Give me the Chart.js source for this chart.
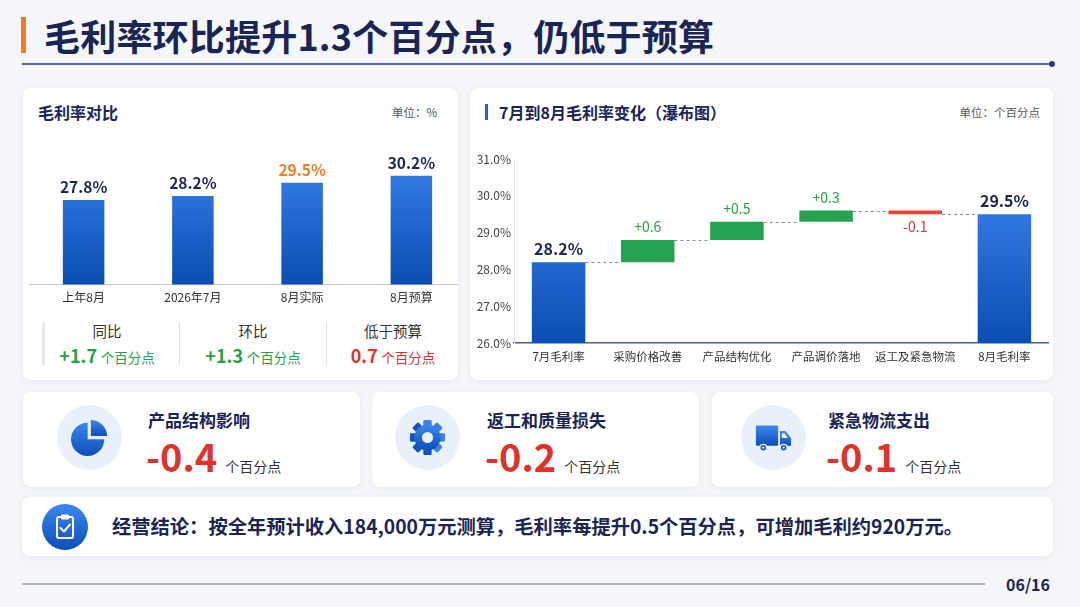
<!DOCTYPE html>
<html lang="zh-CN">
<head>
<meta charset="UTF-8">
<title>毛利率环比提升1.3个百分点</title>
<script src="https://cdn.jsdelivr.net/npm/chart.js"></script>
<style>
  * { box-sizing: border-box; }
  body {
    margin: 0;
    width: 1080px;
    height: 607px;
    overflow: hidden;
    position: relative;
    background: #f4f6fa;
    font-family: "Noto Sans CJK SC", "Noto Sans", sans-serif;
    color: #1b2553;
  }
  .abs { position: absolute; }
  .title-bar { left: 21px; top: 17px; width: 5px; height: 36px; background: #f47b20; }
  h1 {
    position: absolute; left: 44px; top: 11px; margin: 0;
    font-size: 36px; font-weight: 700; color: #1b2553; letter-spacing: 0.2px;
    line-height: 48px; white-space: nowrap;
  }
  .rule { left: 22px; top: 63px; width: 1030px; height: 2px; background: #5d6699; }
  .rule-dot { left: 1049px; top: 61px; width: 6px; height: 6px; border-radius: 50%; background: #2b3a80; }
  .card {
    position: absolute; background: #fff; border-radius: 8px;
    box-shadow: 0 1px 6px rgba(30, 50, 100, 0.07);
    overflow: hidden;
  }
  .card-title { position: absolute; font-size: 16px; font-weight: 700; color: #1b2553; white-space: nowrap; line-height: 20px; }
  .unit { position: absolute; font-size: 11.5px; color: #555; white-space: nowrap; line-height: 16px; }
  .stat { position: absolute; top: 233px; width: 140px; text-align: center; }
  .stat .lbl { font-size: 14.5px; color: #333; line-height: 20px; }
  .stat .val { margin-top: 3px; line-height: 22px; white-space: nowrap; }
  .stat .num { font-size: 18px; font-weight: 700; }
  .stat .u { font-size: 13.5px; }
  .green { color: #27a046; }
  .red { color: #e0322c; }
  .sep { position: absolute; top: 234px; width: 1px; height: 43px; background: #dcdfe5; }
  .icon-bg { position: absolute; width: 65px; height: 65px; border-radius: 50%; background: #e9f0fb; }
  .icon-bg svg { position: absolute; left: 14px; top: 14px; }
  .kpi-title { position: absolute; top: 17px; font-size: 17px; font-weight: 700; color: #1b2553; line-height: 22px; white-space: nowrap; }
  .kpi-val { position: absolute; top: 39px; white-space: nowrap; line-height: 50px; }
  .kpi-val .num { font-size: 38px; font-weight: 700; color: #e0322c; }
  .kpi-val .u { font-size: 14px; color: #333; margin-left: 8px; }
  .note { position: absolute; left: 90px; top: 17px; font-size: 19.3px; font-weight: 700; color: #1b2553; white-space: nowrap; line-height: 25px; }
  .foot-rule { left: 22px; top: 583px; width: 963px; height: 1.5px; background: #aeb3bf; }
  .page { left: 1006px; top: 573px; font-size: 16px; font-weight: 700; color: #1b2553; line-height: 22px; }
</style>
</head>
<body>

<div class="abs title-bar"></div>
<h1>毛利率环比提升1.3个百分点，仍低于预算</h1>
<div class="abs rule"></div>
<div class="abs rule-dot"></div>

<!-- left card: comparison bars -->
<div class="card" style="left:23px; top:88px; width:435px; height:292px;">
  <div class="card-title" style="left:15px; top:14px;">毛利率对比</div>
  <div class="unit" style="right:21px; top:16px;">单位：%</div>
  <div style="position:absolute; left:6px; top:41px; width:437px; height:182px;">
    <canvas id="cmpChart"></canvas>
  </div>
  <div class="sep" style="left:19px; width:3px; background:#e6e8ec;"></div>
  <div class="sep" style="left:156px;"></div>
  <div class="sep" style="left:303px;"></div>
  <div class="stat" style="left:14px;">
    <div class="lbl">同比</div>
    <div class="val green"><span class="num">+1.7</span> <span class="u">个百分点</span></div>
  </div>
  <div class="stat" style="left:160px;">
    <div class="lbl">环比</div>
    <div class="val green"><span class="num">+1.3</span> <span class="u">个百分点</span></div>
  </div>
  <div class="stat" style="left:300px;">
    <div class="lbl">低于预算</div>
    <div class="val red"><span class="num">0.7</span> <span class="u">个百分点</span></div>
  </div>
</div>

<!-- right card: waterfall -->
<div class="card" style="left:470px; top:88px; width:583px; height:292px;">
  <div style="position:absolute; left:15px; top:16px; width:3px; height:16px; background:#1f62d6;"></div>
  <div class="card-title" style="left:29px; top:14px;">7月到8月毛利率变化（瀑布图）</div>
  <div class="unit" style="right:13px; top:16px;">单位：个百分点</div>
  <div style="position:absolute; left:6px; top:57px; width:573px; height:226px;">
    <canvas id="wfChart"></canvas>
  </div>
</div>

<!-- kpi cards -->
<div class="card" style="left:23px; top:392px; width:337px; height:95px;">
  <div class="icon-bg" style="left:34px; top:13px;">
    <svg width="37" height="37" viewBox="0 0 40 40">
      <defs><linearGradient id="gp" x1="0" y1="0" x2="0" y2="1"><stop offset="0" stop-color="#3d86f0"/><stop offset="1" stop-color="#0d4fb6"/></linearGradient></defs>
      <path d="M18 22 L18 4 A18 18 0 1 0 36 22 Z" fill="url(#gp)"/>
      <path d="M21.5 18.5 L21.5 1 A17.5 17.5 0 0 1 39 18.5 Z" fill="url(#gp)"/>
    </svg>
  </div>
  <div class="kpi-title" style="left:125px;">产品结构影响</div>
  <div class="kpi-val" style="left:123px;"><span class="num">-0.4</span><span class="u">个百分点</span></div>
</div>

<div class="card" style="left:372px; top:392px; width:327px; height:95px;">
  <div class="icon-bg" style="left:23px; top:13px;">
    <svg width="37" height="37" viewBox="0 0 40 40">
      <defs><linearGradient id="gg" x1="0" y1="0" x2="0" y2="1"><stop offset="0" stop-color="#3d86f0"/><stop offset="1" stop-color="#0d4fb6"/></linearGradient></defs>
      <g fill="url(#gg)" transform="translate(20 20)">
        <rect x="-4.5" y="-19" width="9" height="38" rx="1.5"/>
        <rect x="-4.5" y="-19" width="9" height="38" rx="1.5" transform="rotate(45)"/>
        <rect x="-4.5" y="-19" width="9" height="38" rx="1.5" transform="rotate(90)"/>
        <rect x="-4.5" y="-19" width="9" height="38" rx="1.5" transform="rotate(135)"/>
        <circle r="14"/>
      </g>
      <circle cx="20" cy="20" r="6" fill="#e9f0fb"/>
    </svg>
  </div>
  <div class="kpi-title" style="left:115px;">返工和质量损失</div>
  <div class="kpi-val" style="left:113px;"><span class="num">-0.2</span><span class="u">个百分点</span></div>
</div>

<div class="card" style="left:712px; top:392px; width:341px; height:95px;">
  <div class="icon-bg" style="left:29px; top:13px;">
    <svg width="37" height="37" viewBox="0 0 40 40">
      <defs><linearGradient id="gt" x1="0" y1="0" x2="0" y2="1"><stop offset="0" stop-color="#3d86f0"/><stop offset="1" stop-color="#0d4fb6"/></linearGradient></defs>
      <rect x="1" y="7" width="24" height="22" rx="1.5" fill="url(#gt)"/>
      <path d="M27 13 L33 13 L39 21 L39 29 L27 29 Z" fill="url(#gt)"/>
      <path d="M29 15.5 L32 15.5 L35.5 20.5 L29 20.5 Z" fill="#e9f0fb"/>
      <circle cx="9" cy="31" r="4.3" fill="#e9f0fb"/><circle cx="9" cy="31" r="3" fill="#1553bd"/><circle cx="9" cy="31" r="1.2" fill="#e9f0fb"/>
      <circle cx="31" cy="31" r="4.3" fill="#e9f0fb"/><circle cx="31" cy="31" r="3" fill="#1553bd"/><circle cx="31" cy="31" r="1.2" fill="#e9f0fb"/>
    </svg>
  </div>
  <div class="kpi-title" style="left:116px;">紧急物流支出</div>
  <div class="kpi-val" style="left:114px;"><span class="num">-0.1</span><span class="u">个百分点</span></div>
</div>

<!-- conclusion banner -->
<div class="card" style="left:22px; top:497px; width:1031px; height:59px;">
  <svg style="position:absolute; left:20px; top:7px;" width="46" height="46" viewBox="0 0 46 46">
    <defs><linearGradient id="gc" x1="0" y1="0" x2="0" y2="1"><stop offset="0" stop-color="#3d86f0"/><stop offset="1" stop-color="#0d4fb6"/></linearGradient></defs>
    <circle cx="23" cy="23" r="23" fill="url(#gc)"/>
    <rect x="15" y="13" width="16" height="21" rx="2" fill="none" stroke="#fff" stroke-width="2"/>
    <rect x="19" y="10.5" width="8" height="5" rx="1.2" fill="#fff"/>
    <path d="M18.5 24 L22 27.5 L28 20.5" fill="none" stroke="#fff" stroke-width="2" stroke-linecap="round" stroke-linejoin="round"/>
  </svg>
  <div class="note">经营结论：按全年预计收入184,000万元测算，毛利率每提升0.5个百分点，可增加毛利约920万元。</div>
</div>

<div class="abs foot-rule"></div>
<div class="abs page">06/16</div>

<script>
// ---- data: 毛利率对比 ----
const cmpLabels = ['上年8月', '2026年7月', '8月实际', '8月预算'];
const cmpValues = [27.8, 28.2, 29.5, 30.2];
const cmpHighlight = '8月实际';

// ---- data: 瀑布图 ----
const wfLabels = ['7月毛利率', '采购价格改善', '产品结构优化', '产品调价落地', '返工及紧急物流', '8月毛利率'];
const wfStart = 28.2;
const wfDeltas = [0.6, 0.5, 0.3, -0.1];
const wfEnd = 29.5;
const wfTicks = [26, 27, 28, 29, 30, 31];

const FONT = '"Noto Sans CJK SC", "Noto Sans", sans-serif';
const NAVY = '#1b2553';
const GREEN = '#27a046';
const RED = '#e0322c';
const ORANGE = '#f47b20';

Chart.defaults.font.family = FONT;
Chart.defaults.animation = false;

function blueGrad(ctx) {
  const chart = ctx.chart;
  const area = chart.chartArea;
  if (!area) return '#2a6fdc';
  const g = chart.ctx.createLinearGradient(0, area.top, 0, area.bottom);
  g.addColorStop(0, '#3f89f2');
  g.addColorStop(1, '#0b4db3');
  return g;
}

// left chart: value labels on top of bars
const cmpLabelPlugin = {
  id: 'cmpLabels',
  afterDatasetsDraw(chart) {
    const c = chart.ctx;
    const meta = chart.getDatasetMeta(0);
    c.save();
    c.font = 'bold 15.5px ' + FONT;
    c.textAlign = 'center';
    c.textBaseline = 'bottom';
    meta.data.forEach((bar, i) => {
      c.fillStyle = cmpLabels[i] === cmpHighlight ? ORANGE : NAVY;
      c.fillText(cmpValues[i].toFixed(1) + '%', bar.x, bar.y - 5);
    });
    c.restore();
  }
};

new Chart(document.getElementById('cmpChart'), {
  type: 'bar',
  data: {
    labels: cmpLabels,
    datasets: [{
      data: cmpValues,
      backgroundColor: blueGrad,
      categoryPercentage: 1,
      barPercentage: 0.38
    }]
  },
  options: {
    responsive: true,
    maintainAspectRatio: false,
    layout: { padding: { top: 8, left: 0, right: 0, bottom: 0 } },
    plugins: { legend: { display: false }, tooltip: { enabled: false } },
    scales: {
      x: {
        grid: { display: false, drawTicks: false },
        border: { display: true, color: '#c8ccd5', width: 1 },
        ticks: { color: '#333', font: { size: 12 }, padding: 6 }
      },
      y: { display: false, min: 19.5, max: 34 }
    }
  },
  plugins: [cmpLabelPlugin]
});

// waterfall: floating bars built from start / deltas / end
const wfLevels = [wfStart];
wfDeltas.forEach(d => wfLevels.push(+(wfLevels[wfLevels.length - 1] + d).toFixed(2)));
const wfBars = [[wfTicks[0], wfStart]];
for (let i = 0; i < wfDeltas.length; i++) wfBars.push([wfLevels[i], wfLevels[i + 1]]);
wfBars.push([wfTicks[0], wfEnd]);
const wfTopLevel = wfLevels.concat([wfEnd]);   // level each bar ends at

function wfColor(ctx) {
  const i = ctx.dataIndex;
  if (i === 0 || i === wfBars.length - 1) return blueGrad(ctx);
  return wfDeltas[i - 1] >= 0 ? '#26a352' : '#ea4438';
}

const wfPlugin = {
  id: 'wfExtras',
  afterDatasetsDraw(chart) {
    const c = chart.ctx;
    const y = chart.scales.y;
    const bars = chart.getDatasetMeta(0).data;
    c.save();
    // dashed connectors
    c.strokeStyle = '#8a8f99';
    c.lineWidth = 1.2;
    c.setLineDash([3, 3]);
    for (let i = 0; i < bars.length - 1; i++) {
      const py = Math.round(y.getPixelForValue(wfTopLevel[i])) + 0.5;
      c.beginPath();
      c.moveTo(bars[i].x + bars[i].width / 2, py);
      c.lineTo(bars[i + 1].x - bars[i + 1].width / 2, py);
      c.stroke();
    }
    c.setLineDash([]);
    // labels
    c.textAlign = 'center';
    bars.forEach((bar, i) => {
      if (i === 0 || i === bars.length - 1) {
        const v = i === 0 ? wfStart : wfEnd;
        c.font = 'bold 16px ' + FONT;
        c.fillStyle = NAVY;
        c.textBaseline = 'bottom';
        c.fillText(v.toFixed(1) + '%', bar.x, y.getPixelForValue(v) - 5);
      } else {
        const d = wfDeltas[i - 1];
        const hi = Math.max(wfLevels[i - 1], wfLevels[i]);
        const lo = Math.min(wfLevels[i - 1], wfLevels[i]);
        c.font = '14px ' + FONT;
        if (d >= 0) {
          c.fillStyle = GREEN;
          c.textBaseline = 'bottom';
          c.fillText('+' + d.toFixed(1), bar.x, y.getPixelForValue(hi) - 6);
        } else {
          c.fillStyle = RED;
          c.textBaseline = 'top';
          c.fillText(d.toFixed(1), bar.x, y.getPixelForValue(lo) + 5);
        }
      }
    });
    c.restore();
  }
};

new Chart(document.getElementById('wfChart'), {
  type: 'bar',
  data: {
    labels: wfLabels,
    datasets: [{
      data: wfBars,
      backgroundColor: wfColor,
      categoryPercentage: 1,
      barPercentage: 0.6
    }]
  },
  options: {
    responsive: true,
    maintainAspectRatio: false,
    layout: { padding: { top: 14, left: 0, right: 0, bottom: 0 } },
    plugins: { legend: { display: false }, tooltip: { enabled: false } },
    scales: {
      x: {
        grid: { display: false, drawTicks: false },
        border: { display: true, color: '#4b5f93', width: 1.5 },
        ticks: { color: '#333', font: { size: 11.5 }, padding: 7 }
      },
      y: {
        min: wfTicks[0],
        max: wfTicks[wfTicks.length - 1],
        afterFit(scale) { scale.width = 38; },
        afterBuildTicks(scale) { scale.ticks = wfTicks.map(v => ({ value: v })); },
        grid: { display: false, drawTicks: false },
        border: { display: true, color: '#e1e4ea', width: 1 },
        ticks: {
          color: '#444',
          font: { size: 12 },
          padding: 3,
          callback: v => Number(v).toFixed(1) + '%'
        }
      }
    }
  },
  plugins: [wfPlugin]
});
</script>
</body>
</html>
